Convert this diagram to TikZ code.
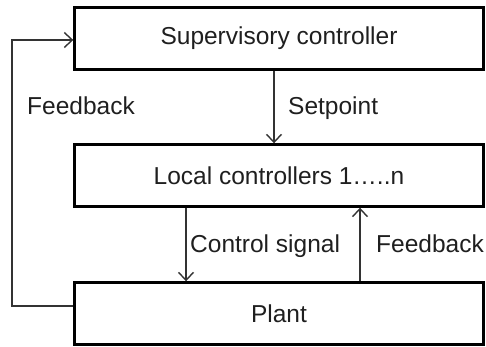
\documentclass[tikz,border=0pt]{standalone}
\usepackage{fontspec}
\setmainfont{Liberation Sans}
\usetikzlibrary{arrows.meta}
\begin{document}
\begin{tikzpicture}[x=1pt,y=-1pt,
  blockbox/.style={draw=black, line width=2.4pt, minimum width=409pt, minimum height=62pt, inner sep=0pt, font=\fontsize{24.5}{28}\selectfont, text=black!88},
  lbl/.style={anchor=base west, inner sep=0pt, font=\fontsize{24.5}{28}\selectfont, text=black!88},
  conn/.style={draw=black!80, line width=1.4pt},
  arr/.style={conn, -{Straight Barb[length=8pt,width=15pt,line width=1.4pt]}}]
\useasboundingbox (0,0) rectangle (486,347);
\node[blockbox] (sup) at (279,38.5) {Supervisory controller};
\node[blockbox] (loc) at (279,175.5) {Local controllers 1\ldots..n};
\node[blockbox] (plant) at (279,313.5) {Plant};
\coordinate (fbtop) at (12,40);
\coordinate (fbbot) at (12,306);
\draw[arr] (plant.west |- fbbot) -- (fbbot) -- (fbtop) -- (sup.west |- fbtop);
\draw[arr] (sup.south -| 274,0) -- (loc.north -| 274,0);
\draw[arr] (loc.south -| 186,0) -- (plant.north -| 186,0);
\draw[arr] (plant.north -| 360,0) -- (loc.south -| 360,0);
\node[lbl] (lfb) at (27,115) {Feedback};
\node[lbl] (sp) at (288,115) {Setpoint};
\node[lbl] (cs) at (190,252) {Control signal};
\node[lbl] (rfb) at (376,252) {Feedback};
\end{tikzpicture}
\end{document}
